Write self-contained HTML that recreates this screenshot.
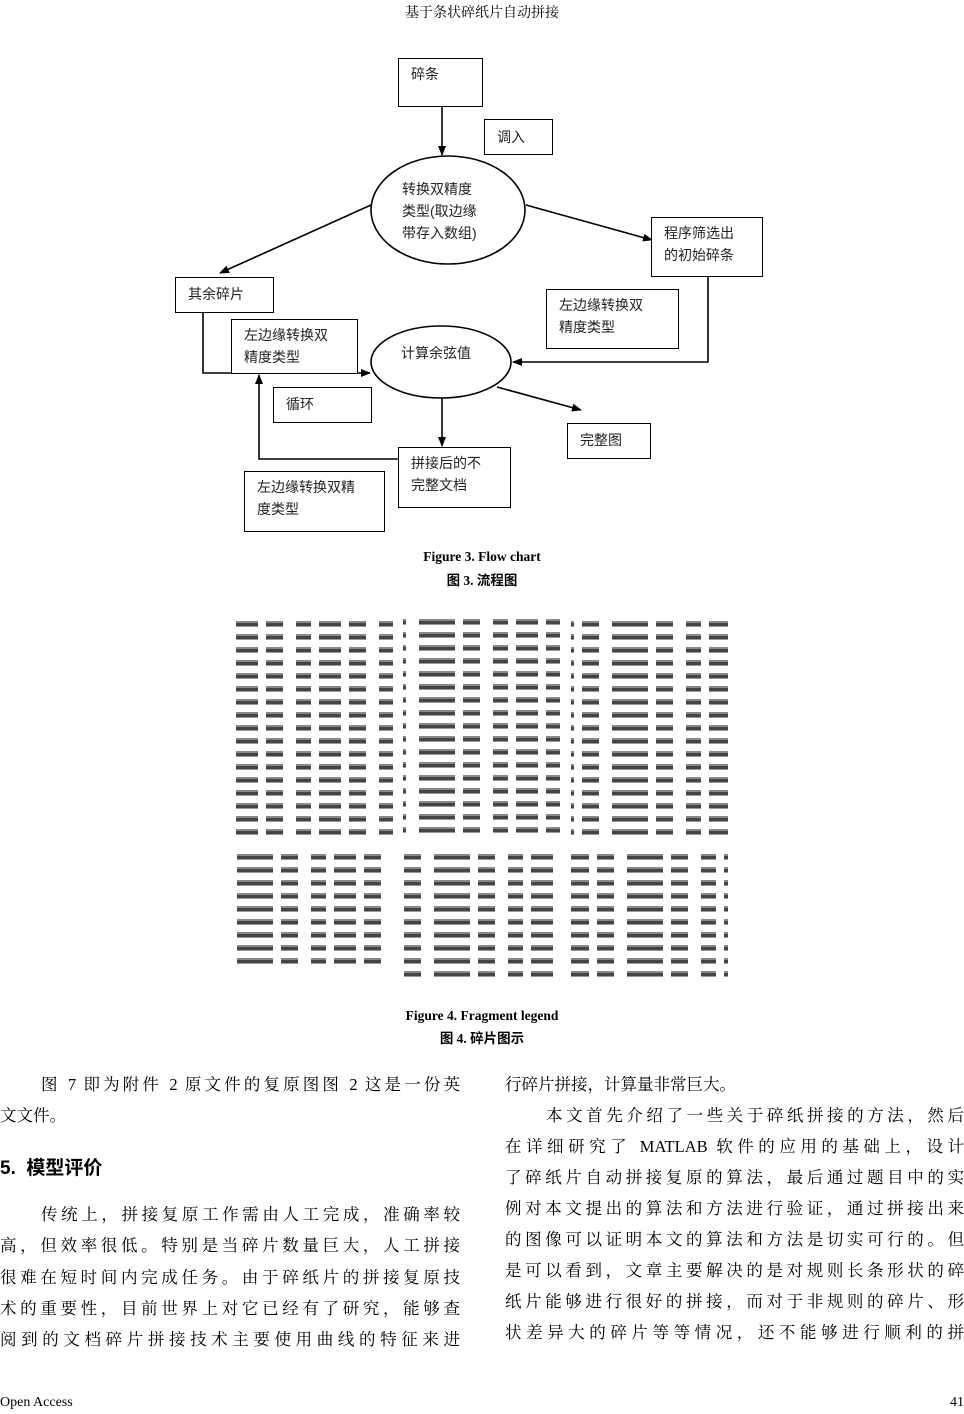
<!DOCTYPE html>
<html><head><meta charset="utf-8"><style>
*{margin:0;padding:0;box-sizing:border-box}
body{width:964px;height:1414px;background:#fff;position:relative;overflow:hidden;font-family:"Liberation Serif","Noto Serif CJK SC","Noto Sans CJK SC",serif;color:#000}
.a{position:absolute}
.bx{position:absolute;border:1.3px solid #000;background:#fff;font-family:"Liberation Sans","Noto Sans CJK SC",sans-serif;font-size:14px;line-height:22px;padding:4px 0 0 12px;color:#222}
.cap{position:absolute;left:0;width:964px;text-align:center;font-weight:bold;font-size:13.5px;font-family:"Liberation Serif","Noto Sans CJK SC",serif}
.ln{position:absolute;font-size:16.5px;text-align:justify;text-align-last:justify;white-space:nowrap;height:22px;line-height:22px}
.ln.l{text-align-last:left}
.frag{position:absolute;background:
 repeating-linear-gradient(90deg,transparent 0 22px,#fff 22px 30px,transparent 30px 47px,#fff 47px 60px,transparent 60px 75px,#fff 75px 83px),
 repeating-linear-gradient(180deg,#fff 0 4px,#888 4px 6px,#444 6px 9px,#999 9px 10px,#fff 10px 13px)}
</style></head><body>
<div class="a" style="left:0;top:2px;width:964px;text-align:center;font-size:14px">基于条状碎纸片自动拼接</div>

<svg class="a" style="left:0;top:0" width="964" height="545">
<defs><marker id="ar" markerWidth="10" markerHeight="8" refX="9" refY="4" orient="auto" markerUnits="userSpaceOnUse"><path d="M0,0 L10,4 L0,8 Z" fill="#000"/></marker></defs>
<g stroke="#000" stroke-width="1.6" fill="none">
<ellipse cx="448" cy="210" rx="77" ry="54"/>
<ellipse cx="441" cy="362" rx="70" ry="36"/>
<line x1="442" y1="107" x2="442" y2="155" marker-end="url(#ar)"/>
<line x1="371" y1="205" x2="220" y2="273" marker-end="url(#ar)"/>
<line x1="526" y1="205" x2="652" y2="240" marker-end="url(#ar)"/>
<polyline points="708,277 708,362 513,362" marker-end="url(#ar)"/>
<polyline points="203,313 203,373 370,373" marker-end="url(#ar)"/>
<line x1="442" y1="398" x2="442" y2="446" marker-end="url(#ar)"/>
<line x1="497" y1="387" x2="581" y2="410" marker-end="url(#ar)"/>
<polyline points="398,459 259,459 259,375" marker-end="url(#ar)"/>
</g>
<g font-family="Liberation Sans,Noto Sans CJK SC,sans-serif" font-size="14" fill="#222">
<text x="402" y="194">转换双精度</text>
<text x="402" y="216">类型(取边缘</text>
<text x="402" y="238">带存入数组)</text>
<text x="401" y="358">计算余弦值</text>
</g>
</svg>
<div class="bx" style="left:398px;top:58px;width:85px;height:49px">碎条</div>
<div class="bx" style="left:484px;top:119px;width:69px;height:36px;padding-top:6px">调入</div>
<div class="bx" style="left:651px;top:217px;width:112px;height:60px">程序筛选出<br>的初始碎条</div>
<div class="bx" style="left:175px;top:277px;width:99px;height:36px;padding-top:5px">其余碎片</div>
<div class="bx" style="left:546px;top:289px;width:133px;height:60px">左边缘转换双<br>精度类型</div>
<div class="bx" style="left:231px;top:319px;width:127px;height:55px">左边缘转换双<br>精度类型</div>
<div class="bx" style="left:273px;top:387px;width:99px;height:36px;padding-top:5px">循环</div>
<div class="bx" style="left:567px;top:423px;width:84px;height:36px;padding-top:5px">完整图</div>
<div class="bx" style="left:398px;top:447px;width:113px;height:61px">拼接后的不<br>完整文档</div>
<div class="bx" style="left:244px;top:471px;width:141px;height:61px">左边缘转换双精<br>度类型</div>

<div class="cap" style="top:549px">Figure 3. Flow chart</div>
<div class="cap" style="top:569px">图 3. 流程图</div>

<div class="frag" style="left:236px;top:617px;width:157px;height:220px"></div>
<div class="frag" style="left:403px;top:613px;width:157px;height:225px;background-position:30px 0,0 2px"></div>
<div class="frag" style="left:571px;top:617px;width:157px;height:220px;background-position:55px 0,0 0"></div>
<div class="frag" style="left:236px;top:850px;width:157px;height:120px;background-position:15px 0,0 0"></div>
<div class="frag" style="left:403px;top:850px;width:157px;height:132px;background-position:45px 0,0 0"></div>
<div class="frag" style="left:571px;top:850px;width:157px;height:132px;background-position:70px 0,0 0"></div>

<div class="cap" style="top:1008px">Figure 4. Fragment legend</div>
<div class="cap" style="top:1027px">图 4. 碎片图示</div>

<div class="ln" style="left:41px;top:1074px;width:419px">图 7 即为附件 2 原文件的复原图图 2 这是一份英</div>
<div class="ln l" style="left:0;top:1105px;width:460px">文文件。</div>
<div class="a" style="left:0;top:1153px;font-size:19px;font-weight:bold;font-family:'Liberation Sans','Noto Sans CJK SC',sans-serif">5.&nbsp; 模型评价</div>
<div class="ln" style="left:41px;top:1204px;width:419px">传统上，拼接复原工作需由人工完成，准确率较</div>
<div class="ln" style="left:0;top:1235px;width:460px">高，但效率很低。特别是当碎片数量巨大，人工拼接</div>
<div class="ln" style="left:0;top:1267px;width:460px">很难在短时间内完成任务。由于碎纸片的拼接复原技</div>
<div class="ln" style="left:0;top:1298px;width:460px">术的重要性，目前世界上对它已经有了研究，能够查</div>
<div class="ln" style="left:0;top:1329px;width:460px">阅到的文档碎片拼接技术主要使用曲线的特征来进</div>

<div class="ln l" style="left:505px;top:1074px;width:459px">行碎片拼接，计算量非常巨大。</div>
<div class="ln" style="left:546px;top:1105px;width:418px">本文首先介绍了一些关于碎纸拼接的方法，然后</div>
<div class="ln" style="left:505px;top:1136px;width:459px">在详细研究了 MATLAB 软件的应用的基础上，设计</div>
<div class="ln" style="left:505px;top:1167px;width:459px">了碎纸片自动拼接复原的算法，最后通过题目中的实</div>
<div class="ln" style="left:505px;top:1198px;width:459px">例对本文提出的算法和方法进行验证，通过拼接出来</div>
<div class="ln" style="left:505px;top:1229px;width:459px">的图像可以证明本文的算法和方法是切实可行的。但</div>
<div class="ln" style="left:505px;top:1260px;width:459px">是可以看到，文章主要解决的是对规则长条形状的碎</div>
<div class="ln" style="left:505px;top:1291px;width:459px">纸片能够进行很好的拼接，而对于非规则的碎片、形</div>
<div class="ln" style="left:505px;top:1322px;width:459px">状差异大的碎片等等情况，还不能够进行顺利的拼</div>

<div class="a" style="left:0;top:1395px;font-size:14px">Open Access</div>
<div class="a" style="right:0;top:1395px;font-size:14px">41</div>
</body></html>
